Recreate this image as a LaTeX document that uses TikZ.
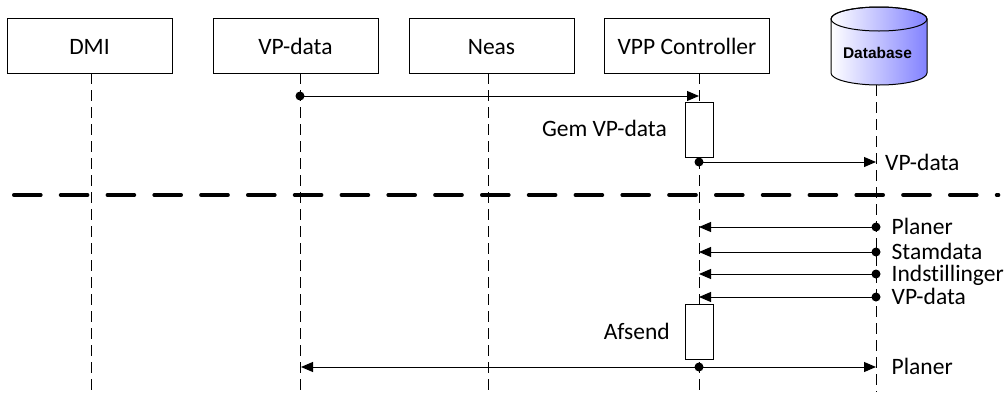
\documentclass[tikz,border=0pt]{standalone}
\usepackage{fontspec}
\setmainfont{Carlito}[Ligatures=NoCommon]
\newfontfamily\dbfont{Liberation Sans}
\usetikzlibrary{arrows.meta}
\definecolor{dbblue}{RGB}{130,130,255}
\begin{document}
\begin{tikzpicture}[x=1pt,y=-1pt,
  actor/.style={draw, line width=1pt, minimum width=165pt, minimum height=55pt, inner sep=0pt,
    text height=17pt, text depth=0pt, font=\fontsize{23.5}{27}\selectfont},
  lifeline/.style={line width=1pt, dash pattern=on 11pt off 6pt},
  msg/.style={line width=1pt, -{Triangle[length=12pt,width=10pt]}},
  actbox/.style={draw, fill=white, line width=1pt, minimum width=28pt, minimum height=55pt, inner sep=0pt},
  lbl/.style={font=\fontsize{23.5}{27}\selectfont, inner sep=0pt},
  msgdot/.style={circle, fill=black, inner sep=0pt, minimum size=9pt},
  separator/.style={line width=3.6pt, line cap=round, dash pattern=on 27pt off 19.8pt}]
\useasboundingbox (0,0) rectangle (1005,392);

% participants
\node[actor] (dmi) at (89.5,45.5) {DMI};
\node[actor] (vpd) at (295.5,45.5) {VP-data};
\node[actor] (neas) at (491.5,45.5) {Neas};
\node[actor] (vpp) at (687,45.5) {VPP Controller};

% database cylinder
\shade[left color=white, right color=dbblue, line width=1pt]
  (831,19) -- (831,73) arc[start angle=180, end angle=0, x radius=48, y radius=12]
  -- (927,19) arc[start angle=0, end angle=-180, x radius=48, y radius=12] -- cycle;
\draw[line width=1pt]
  (831,19) -- (831,73) arc[start angle=180, end angle=0, x radius=48, y radius=12]
  -- (927,19) arc[start angle=0, end angle=-180, x radius=48, y radius=12] -- cycle;
\draw[line width=1pt] (879,19) ellipse[x radius=48, y radius=12];
\node[inner sep=0pt, anchor=base, font=\dbfont\bfseries\fontsize{15.5}{18}\selectfont] (db) at (877.5,58.3) {Database};

% lifeline coordinates
\coordinate (dmiT) at (91,73);   \coordinate (dmiB) at (91,392);
\coordinate (vpdT) at (300,73);  \coordinate (vpdB) at (300,392);
\coordinate (neasT) at (488,73); \coordinate (neasB) at (488,392);
\coordinate (vppT) at (699,73);  \coordinate (vppB) at (699,392);
\coordinate (dbT) at (876,85);   \coordinate (dbB) at (876,392);

\draw[lifeline] (dmiT) -- (dmiB);
\draw[lifeline] (vpdT) -- (vpdB);
\draw[lifeline] (neasT) -- (neasB);
\draw[lifeline] (vppT) -- (vppB);
\draw[lifeline] (dbT) -- (dbB);

% activation boxes
\node[actbox] (act1) at (699,129.5) {};
\node[actbox] (act2) at (699,332) {};
\node[lbl, anchor=base east] (gem) at (667,136.7) {Gem VP-data};
\node[lbl, anchor=base east] (afsend) at (670,339) {Afsend};

% message 1
\coordinate (m1s) at (300,96);  \coordinate (m1e) at (699,96);
\draw[msg] (m1s) -- (m1e);
\node[msgdot] at (m1s) {};

% message 2
\coordinate (m2s) at (699,162); \coordinate (m2e) at (876,162);
\draw[msg] (m2s) -- (m2e);
\node[msgdot] at (m2s) {};
\node[lbl, anchor=base west] (l2) at (885,170) {VP-data};

% separator
\coordinate (sepL) at (13.8,195); \coordinate (sepR) at (998.5,195);
\draw[separator] (sepL) -- (sepR);

% replies from database
\foreach \y/\t [count=\i] in {227/Planer, 252/Stamdata, 274/Indstillinger, 297/VP-data}{
  \coordinate (r\i s) at (876,\y);
  \coordinate (r\i e) at (699,\y);
  \draw[msg] (r\i s) -- (r\i e);
  \node[msgdot] at (r\i s) {};
  \node[lbl, anchor=base west] (rl\i) at (891.5,\y+7) {\t};
}

% final send
\coordinate (fs) at (699,367);
\coordinate (fl) at (301,367);
\coordinate (fr) at (876,367);
\draw[msg] (fs) -- (fl);
\draw[msg] (fs) -- (fr);
\node[msgdot] at (fs) {};
\node[lbl, anchor=base west] (fpl) at (891.5,374) {Planer};
\end{tikzpicture}
\end{document}
